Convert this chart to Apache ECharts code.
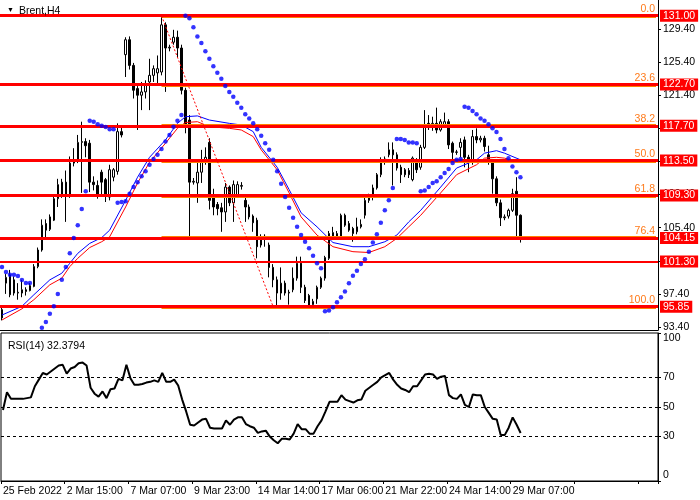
<!DOCTYPE html>
<html><head><meta charset="utf-8">
<script src="https://cdn.jsdelivr.net/npm/echarts@6/dist/echarts.min.js"></script>
<style>html,body{margin:0;padding:0;background:#fff}#c{width:700px;height:500px}</style>
</head><body><div id="c"></div>
<script>
const FONT = "'Liberation Sans Narrow','Liberation Sans',Arial,sans-serif";

// ---- data ----
const tickLabels = ['25 Feb 2022','2 Mar 15:00','7 Mar 07:00','9 Mar 23:00','14 Mar 14:00','17 Mar 06:00','21 Mar 22:00','24 Mar 14:00','29 Mar 07:00'];
const priceTicks = [93.4, 97.4, 101.4, 105.4, 109.4, 113.4, 117.4, 121.4, 125.4, 129.4];
const rsiTicks = [0, 30, 50, 70, 100];
const rsiLevels = [70, 50, 30];
const fibPrices = [131.00, 122.70, 117.70, 113.50, 109.30, 104.15, 101.30, 95.85];
const fibPcts   = ['0.0', '23.6', '38.2', '50.0', '61.8', '76.4', '', '100.0'];
const fibAnchorBars = [40, 68];
const slotCount = 165;

const opens = [95.5,98.7,99.7,99.1,97.5,97.5,97.9,97.8,98.3,100.7,
102.7,105.9,105.2,106.3,108.9,109.3,110.9,109.3,113.2,113.6,
115.7,115.8,115.6,110.9,110.5,112.1,111.2,109.1,111.5,112.2,
117.0,126.3,128.1,125.0,122.2,121.4,121.8,123.0,123.8,124.1,
124.2,129.9,127.1,127.8,128.4,127.1,122.0,118.4,110.9,110.8,
112.1,113.3,115.7,109.1,108.2,107.8,107.3,110.3,108.4,109.3,
110.4,108.7,107.9,106.8,106.3,103.3,104.3,103.3,100.6,99.1,
97.5,98.7,97.5,97.9,99.3,101.1,98.2,97.2,96.1,96.8,
98.2,99.3,101.7,104.8,104.3,104.3,106.9,105.9,105.3,104.9,
105.5,106.9,108.7,109.3,110.2,111.8,113.3,114.2,114.8,114.2,
112.7,112.4,112.3,111.2,113.6,112.7,115.1,118.0,117.6,118.0,
117.2,117.8,118.2,115.6,114.5,115.1,116.0,113.9,113.3,116.4,
116.0,116.2,114.2,113.3,111.3,108.4,106.6,106.8,107.5,109.8,
106.9];
const highs = [96.0,99.8,100.3,99.5,98.7,99.1,98.2,98.7,101.0,103.0,
106.4,106.4,107.0,109.2,111.3,111.3,112.3,114.0,115.0,116.6,
118.2,116.2,116.0,111.6,111.1,112.4,111.4,113.0,112.6,118.0,
117.5,128.4,128.5,125.3,122.5,123.0,123.2,125.8,125.0,126.2,
131.0,130.2,127.5,129.3,129.2,127.5,122.3,119.0,111.4,113.5,
114.8,115.1,116.2,110.1,108.5,108.4,110.8,110.5,111.1,111.0,
110.9,109.0,108.2,107.0,106.6,104.6,104.6,103.6,101.0,99.5,
100.6,99.0,97.9,100.6,101.9,101.9,98.5,97.4,96.8,98.4,
99.5,102.0,105.0,105.5,105.0,107.1,107.1,106.2,105.5,106.6,
106.4,109.0,109.5,110.6,112.0,113.9,114.0,115.7,115.7,114.5,
113.0,112.6,112.6,114.0,113.8,115.4,119.6,119.0,118.8,119.9,
118.5,119.3,118.5,115.8,114.8,116.2,116.4,114.2,117.2,117.4,
116.5,116.5,115.3,113.6,111.6,108.8,107.0,107.7,110.1,111.5,
107.0];
const lows = [94.2,97.4,97.0,97.2,96.7,97.0,97.2,97.7,98.2,100.5,
102.5,104.2,105.0,106.2,107.9,109.0,106.1,109.0,112.8,113.2,
109.6,113.9,109.7,109.9,108.9,109.3,108.5,108.7,111.0,111.8,
116.3,123.6,124.5,121.0,117.2,119.6,121.0,119.6,123.0,122.6,
123.8,121.8,126.7,127.5,126.0,121.5,116.8,104.3,110.6,108.4,
110.8,113.0,107.6,106.9,106.9,104.9,106.1,108.0,106.1,109.0,
110.0,106.1,106.4,104.9,101.7,103.0,103.1,99.4,98.2,95.85,
96.7,97.2,96.1,97.6,99.0,97.5,96.3,95.9,95.9,96.2,
98.0,99.0,101.5,104.0,104.0,104.1,105.5,104.9,103.7,104.6,
105.3,106.5,108.4,108.7,110.0,111.5,113.0,113.9,110.5,112.3,
110.8,111.5,111.4,111.0,112.0,112.4,114.9,117.2,117.1,116.8,
117.0,117.5,114.9,113.3,114.2,113.9,112.7,112.1,113.0,115.6,
115.7,114.6,113.0,109.5,108.0,105.6,106.3,106.5,107.3,104.2,
103.6];
const closes = [94.5,99.4,97.3,97.5,97.6,97.9,97.7,98.4,100.7,102.7,
105.7,105.1,106.7,108.9,110.6,110.9,109.3,113.2,113.5,115.7,
115.8,115.3,110.9,110.6,109.4,110.9,109.3,112.4,112.4,117.0,
116.6,128.1,125.0,122.0,121.4,121.8,122.6,123.8,124.6,124.6,
129.9,127.1,127.2,128.4,127.1,122.0,117.6,110.9,111.0,112.1,
113.3,113.9,108.7,107.9,107.7,107.3,110.3,108.4,110.6,110.6,
110.5,107.9,106.7,106.0,103.1,104.3,104.35,100.6,99.1,97.5,
98.7,97.5,97.6,99.3,101.1,98.2,96.6,96.0,96.5,98.2,
99.3,101.8,104.7,104.3,104.7,106.9,105.7,105.1,104.7,105.5,
105.8,108.7,109.1,110.2,111.8,113.6,113.7,114.8,114.2,112.6,
111.8,111.8,111.8,113.8,112.4,115.1,117.6,117.6,118.0,117.2,
118.2,118.2,115.4,114.5,114.55,115.7,113.9,113.3,116.4,116.0,
116.2,115.2,113.3,111.3,108.4,106.6,106.7,107.5,109.5,106.9,
104.2];

const sarValues = [100.65,100.05,99.7,99.7,99.56,99.08,98.72,98.72,null,
93.0,93.3,94.0,95.0,95.9,97.4,99.1,100.65,102.3,104.15,105.7,107.65,109.8,
118.3,118.2,117.9,117.7,117.55,117.3,117.3,
108.4,108.5,108.6,109.5,110.3,110.9,111.6,112.2,113.0,113.7,114.2,114.9,115.8,116.6,117.6,118.3,119.0,
131.0,130.7,129.6,128.5,127.7,126.7,125.8,124.9,124.1,123.4,122.5,121.8,121.2,120.5,119.9,119.1,118.6,118.0,117.3,116.5,115.6,114.8,113.6,112.2,110.7,109.1,107.8,106.6,105.5,104.5,103.7,102.9,102.0,101.1,100.5,
95.3,95.4,95.8,96.4,97.0,97.7,98.7,99.6,100.2,101.0,101.6,102.5,103.6,104.6,106.0,107.5,108.7,110.2,
116.1,116.1,116.0,115.7,115.7,115.6,
109.8,109.9,110.3,110.8,111.0,111.5,112.0,112.5,113.2,113.6,113.7,
120.0,119.9,119.5,119.1,118.6,118.3,117.9,117.4,116.95,116.1,114.9,113.8,112.8,112.1,111.5];

const maBlue = [[0,94.85],[5,95.9],[8,97.3],[12,99.1],[15,99.9],[17,101.1],[19,102.3],[22,103.5],[25,104.2],[27,105.1],[31,108.7],[34,111.5],[37,113.9],[41,116.0],[44,118.0],[46,118.8],[49,118.9],[52,118.4],[57,118.0],[60,117.8],[63,117.0],[65,115.1],[69,112.7],[72,110.0],[75,107.2],[79,105.5],[83,103.6],[88,103.1],[92,103.1],[96,103.7],[99,104.5],[102,106.1],[105,107.5],[110,110.3],[114,112.6],[119,113.6],[121,114.4],[124,114.7],[126,114.4],[130,113.6]];
const maRed = [[0,94.25],[5,95.6],[8,96.7],[12,98.5],[15,99.3],[17,100.7],[19,101.7],[22,103.0],[25,103.7],[27,104.3],[31,107.9],[34,110.8],[37,113.3],[41,115.6],[44,117.4],[46,118.1],[49,118.2],[52,117.6],[57,117.4],[60,117.2],[63,116.4],[65,114.8],[69,112.4],[72,109.6],[75,106.7],[79,104.5],[83,103.1],[88,102.5],[92,102.4],[96,103.1],[99,104.1],[102,105.5],[105,106.9],[110,109.6],[114,111.8],[119,113.0],[121,113.8],[124,113.9],[126,113.8],[130,113.3]];

const rsiValues = [48,60,55.5,55.5,55.5,55.5,56,56.5,64,68.5,
73,72,74,76,78,78.5,72.5,76,77,79.5,
80,78,63,59,57,60.5,56,62,62.5,69,
68,78.5,69.5,65,65,65.5,66.5,67,68,67,
73,67,67,68.5,64.5,55,47,38,37.5,39.5,
41.5,42,36,35.5,35.5,35.5,41,38,41.5,43,
43,38.5,37,36,32.5,33.5,34,30,27.5,25.5,
28.5,28.5,28,32,38.5,35,35,32,32,37,
41,47,53.5,53.5,53.5,58,55,54,53,54.5,
55,61,63,65,67,70,71.5,73,68.5,65,
62.5,61.5,60,64,64,68,72,72.5,72,69,
70.5,71,58,56,55.5,58.5,51.5,50,58.5,58,
58,50,46,42,41.5,31,31,36,43,38,
32.4];

// ---- build ----
const categories = Array.from({length: slotCount}, (_, i) => String(i));
const candleData = opens.map((o, i) => [o, closes[i], lows[i], highs[i]]);
const sarPoints = sarValues.map((v, i) => [i, v]).filter(p => p[1] !== null);
const lastSlot = slotCount - 1;

const fibRedLines = fibPrices.map(p => ({
  yAxis: p,
  lineStyle: { width: p === 101.30 ? 2 : 3 }
}));
fibRedLines.push([
  { coord: [fibAnchorBars[0], fibPrices[0]], label: { show: false }, lineStyle: { width: 1, type: [2, 2], color: '#ff0000' } },
  { coord: [fibAnchorBars[1], fibPrices[fibPrices.length - 1]] }
]);
const fibOrangeLines = [];
fibPrices.forEach((p, i) => {
  if (fibPcts[i] === '') return;
  fibOrangeLines.push([
    { coord: [fibAnchorBars[0], p], label: { formatter: fibPcts[i] } },
    { coord: [lastSlot, p] }
  ]);
});

const axisText = { color: '#000', fontSize: 10.5, fontFamily: FONT };

const option = {
  animation: false,
  backgroundColor: '#fff',
  textStyle: { fontFamily: FONT },
  title: [
    { text: '▼', left: 2, top: 2, textStyle: { fontSize: 7, color: '#000', fontWeight: 'normal' } },
    { text: 'Brent,H4', left: 14, top: 1, textStyle: { fontSize: 10.5, color: '#000', fontWeight: 'normal', fontFamily: FONT } },
    { text: 'RSI(14) 32.3794', left: 3, top: 336, textStyle: { fontSize: 10.5, color: '#000', fontWeight: 'normal', fontFamily: FONT } }
  ],
  grid: [
    { left: -2, top: 0, width: 660, height: 330 },
    { left: -2, top: 333, width: 660, height: 148, show: true, borderColor: '#000', borderWidth: 1, backgroundColor: 'transparent' }
  ],
  xAxis: [
    { type: 'category', gridIndex: 0, data: categories, boundaryGap: true,
      axisLine: { show: true, lineStyle: { color: '#000', width: 1 } },
      axisTick: { show: false }, axisLabel: { show: false }, splitLine: { show: false } },
    { type: 'category', gridIndex: 1, data: categories, boundaryGap: true,
      axisLine: { show: true, lineStyle: { color: '#000', width: 1 } },
      axisTick: { show: true, interval: 15, length: 3, lineStyle: { color: '#000' } },
      axisLabel: Object.assign({ interval: 15, align: 'left', margin: 5,
        formatter: (v, i) => tickLabels[i / 16] || '' }, axisText),
      splitLine: { show: false } }
  ],
  yAxis: [
    { type: 'value', gridIndex: 0, position: 'right', min: 93.04, max: 132.9,
      splitLine: { show: false },
      axisLine: { show: true, lineStyle: { color: '#000', width: 1 } },
      axisTick: { show: true, length: 3, customValues: priceTicks, lineStyle: { color: '#000' } },
      axisLabel: Object.assign({ customValues: priceTicks, margin: 5, formatter: v => Number(v).toFixed(2) }, axisText) },
    { type: 'value', gridIndex: 1, position: 'right', min: 0, max: 100,
      splitLine: { show: false },
      axisLine: { show: true, lineStyle: { color: '#000', width: 1 } },
      axisTick: { show: true, length: 3, customValues: rsiTicks, lineStyle: { color: '#000' } },
      axisLabel: Object.assign({ customValues: rsiTicks, margin: 5,
        verticalAlignMaxLabel: 'top', verticalAlignMinLabel: 'bottom' }, axisText) }
  ],
  series: [
    { name: 'fibObject', type: 'line', xAxisIndex: 0, yAxisIndex: 0, data: [], z: 1, silent: true,
      markLine: { silent: true, animation: false, symbol: ['none', 'none'],
        lineStyle: { color: '#ff8000', width: 4, type: 'solid' },
        label: { show: true, position: 'insideEndTop', color: '#ff7a1a', fontSize: 10.5, fontFamily: FONT, distance: 1 },
        data: fibOrangeLines } },
    { name: 'fibLevels', type: 'line', xAxisIndex: 0, yAxisIndex: 0, data: [], z: 2, silent: true,
      markLine: { silent: true, animation: false, symbol: ['none', 'none'],
        lineStyle: { color: '#ff0000', width: 3, type: 'solid' },
        label: { show: true, position: 'end', distance: 2, formatter: p => Number(p.value).toFixed(2),
          color: '#fff', backgroundColor: '#ff0000', padding: [1, 3, 0, 3], fontSize: 10.5, fontFamily: FONT },
        data: fibRedLines } },
    { name: 'Brent', type: 'candlestick', xAxisIndex: 0, yAxisIndex: 0, data: candleData, z: 3,
      barWidth: 2,
      itemStyle: { color: '#fff', color0: '#000', borderColor: '#000', borderColor0: '#000', borderWidth: 1 } },
    { name: 'MA blue', type: 'line', xAxisIndex: 0, yAxisIndex: 0, data: maBlue, z: 4,
      showSymbol: false, symbol: 'none', lineStyle: { color: '#0000ff', width: 1 } },
    { name: 'MA red', type: 'line', xAxisIndex: 0, yAxisIndex: 0, data: maRed, z: 4,
      showSymbol: false, symbol: 'none', lineStyle: { color: '#ff0000', width: 1 } },
    { name: 'SAR', type: 'scatter', xAxisIndex: 0, yAxisIndex: 0, data: sarPoints, z: 5,
      symbol: 'circle', symbolSize: 4.5, itemStyle: { color: '#0000ff' } },
    { name: 'RSI', type: 'line', xAxisIndex: 1, yAxisIndex: 1, data: rsiValues, z: 3,
      showSymbol: false, symbol: 'none', lineStyle: { color: '#000', width: 2 },
      markLine: { silent: true, animation: false, symbol: ['none', 'none'], label: { show: false },
        lineStyle: { color: '#000', width: 1, type: [3, 3] },
        data: rsiLevels.map(v => ({ yAxis: v })) } }
  ]
};

const chart = echarts.init(document.getElementById('c'));
chart.setOption(option);
</script></body></html>
